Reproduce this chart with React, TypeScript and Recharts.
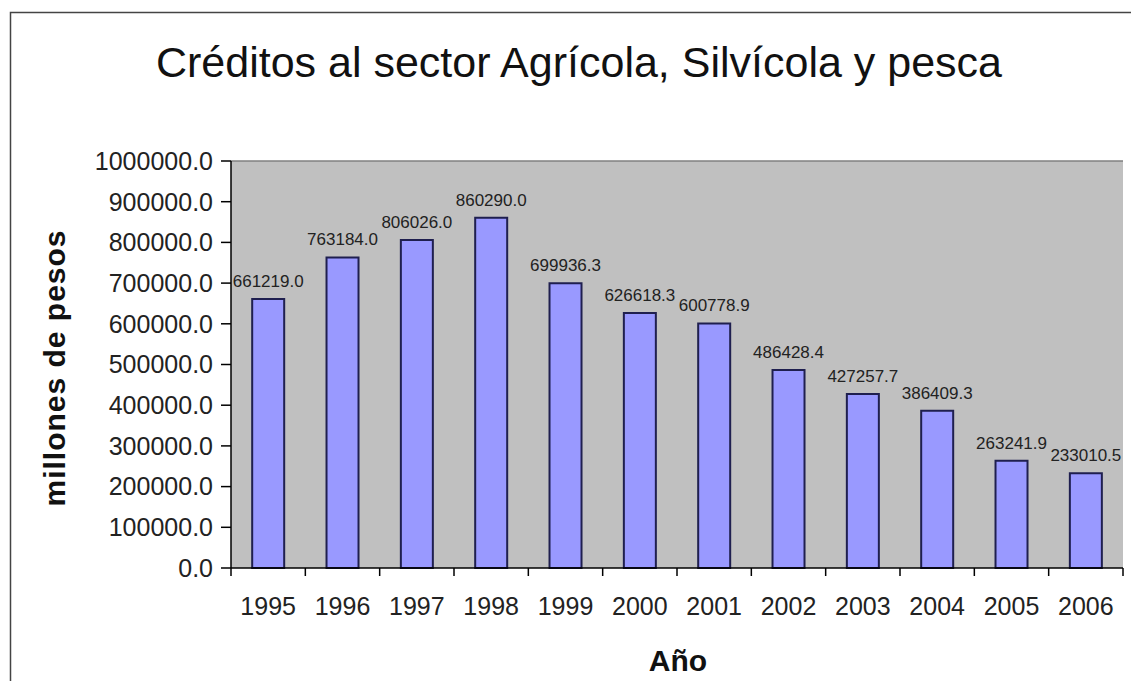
import React from 'react';
import { BarChart, Bar, XAxis, YAxis, CartesianGrid, LabelList, ReferenceLine } from 'recharts';

const years = ['1995', '1996', '1997', '1998', '1999', '2000', '2001', '2002', '2003', '2004', '2005', '2006'];
const credits = [661219.0, 763184.0, 806026.0, 860290.0, 699936.3, 626618.3, 600778.9, 486428.4, 427257.7, 386409.3, 263241.9, 233010.5];
const yTicks = [0, 100000, 200000, 300000, 400000, 500000, 600000, 700000, 800000, 900000, 1000000];

const titleText = 'Créditos al sector Agrícola, Silvícola y pesca';
const yTitle = 'millones de pesos';
const xTitle = 'Año';

const data = years.map((year, i) => ({ year, credits: credits[i] }));

const FONT = '"Liberation Sans", Arial, Helvetica, sans-serif';

function YearTick(props: any) {
  const { x, y, payload, index, width, visibleTicksCount } = props;
  const count = visibleTicksCount || years.length;
  const half = (width || 892) / count / 2;
  return (
    <g>
      <line x1={x - half} x2={x - half} y1={y} y2={y + 8} stroke="#000" strokeWidth={1.5} />
      {index === count - 1 ? (
        <line x1={x + half} x2={x + half} y1={y} y2={y + 8} stroke="#000" strokeWidth={1.5} />
      ) : null}
      <text x={x} y={y + 29} dy="0.71em" textAnchor="middle" fontSize={25} fill="#222" fontFamily={FONT}>
        {payload.value}
      </text>
    </g>
  );
}

export default function App() {
  return (
    <div style={{ position: 'absolute', left: 0, top: 0, width: 1131, height: 681, background: '#fff', overflow: 'hidden', fontFamily: FONT }}>
      <BarChart width={1131} height={681} data={data} margin={{ top: 161, right: 8, bottom: 0, left: 0 }} barCategoryGap="28.5%">
        <CartesianGrid fill="#C0C0C0" horizontal={false} vertical={false} stroke="none" />
        <XAxis
          dataKey="year"
          height={113}
          axisLine={{ stroke: '#000', strokeWidth: 1.5 }}
          tickLine={false}
          tickSize={0}
          tickMargin={0}
          interval={0}
          tick={<YearTick />}
        />
        <YAxis
          width={231}
          domain={[0, 1000000]}
          ticks={yTicks}
          interval={0}
          tickFormatter={(v: number) => v.toFixed(1)}
          tickSize={10}
          tickMargin={8}
          axisLine={{ stroke: '#000', strokeWidth: 1.5 }}
          tickLine={{ stroke: '#000', strokeWidth: 1.5 }}
          tick={{ fontSize: 25, fill: '#222', fontFamily: FONT }}
        />
        <ReferenceLine y={1000000} stroke="#808080" strokeWidth={1.5} />
        <Bar dataKey="credits" fill="#9999FF" stroke="#1f1f4f" strokeWidth={2} isAnimationActive={false}>
          <LabelList
            dataKey="credits"
            position="top"
            offset={12}
            formatter={(v: any) => Number(v).toFixed(1)}
            style={{ fontSize: 17, fill: '#222', fontFamily: FONT }}
          />
        </Bar>
      </BarChart>
      <svg
        width={1131}
        height={681}
        style={{ position: 'absolute', left: 0, top: 0, pointerEvents: 'none' }}
      >
        <path d="M10.5 681 V12.5 H1131" stroke="#444" strokeWidth={1.5} fill="none" />
        <text x={579} y={77} textAnchor="middle" fontSize={43} fill="#111" fontFamily={FONT}>
          {titleText}
        </text>
        <text
          x={-368}
          y={65}
          transform="rotate(-90)"
          textAnchor="middle"
          fontSize={30}
          fontWeight="bold"
          letterSpacing={1}
          fill="#111"
          fontFamily={FONT}
        >
          {yTitle}
        </text>
        <text x={678} y={671} textAnchor="middle" fontSize={30} fontWeight="bold" fill="#111" fontFamily={FONT}>
          {xTitle}
        </text>
      </svg>
    </div>
  );
}
